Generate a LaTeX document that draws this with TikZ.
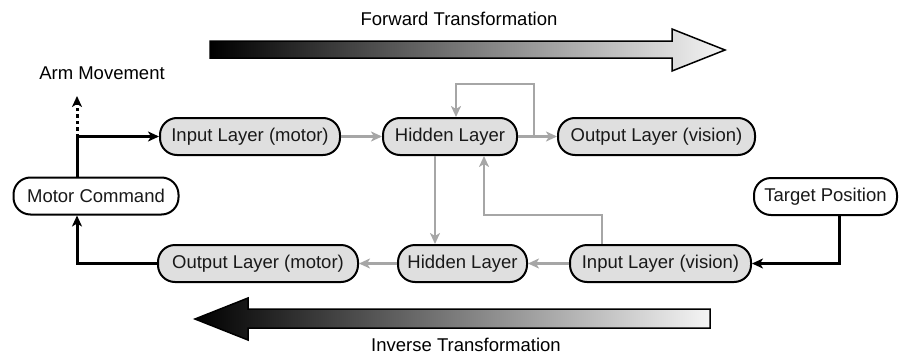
\documentclass[tikz,border=0pt]{standalone}
\usepackage{fontspec}
\setmainfont{Liberation Sans}
\usetikzlibrary{arrows.meta}
\begin{document}
\begin{tikzpicture}[x=1pt,y=-1pt,
  font=\fontsize{18.5}{20}\selectfont,
  layer/.style={draw=black, line width=2pt, fill=gray!25, rounded corners=17pt,
    minimum height=37pt, inner sep=0pt, text=black!90},
  ext/.style={layer, fill=white},
  gry/.style={draw=gray!70, line width=2.4pt, -{Stealth[length=11pt,width=10pt,inset=3pt]}},
  blk/.style={draw=black, line width=3pt, -{Stealth[length=11pt,width=10pt,inset=3pt]}},
  bigarrow/.style={draw=black, line width=1.5pt, line join=miter}
]
\useasboundingbox (0,0) rectangle (904,356);

% transformation arrows
\shadedraw[bigarrow, left color=black, right color=gray!8]
  (210,41) -- (672,41) -- (672,29) -- (725,50) -- (672,71) -- (672,58) -- (210,58) -- cycle;
\node (fwd) at (459,19) {Forward Transformation};

\shadedraw[bigarrow, left color=black, right color=gray!8]
  (710,309) -- (248,309) -- (248,298) -- (195,319) -- (248,340) -- (248,328) -- (710,328) -- cycle;
\node (inv) at (466,345) {Inverse Transformation};

% nodes
\node[layer, minimum width=180pt] (iml) at (250,136.5) {Input Layer (motor)};
\node[layer, minimum width=134pt] (hid1) at (450,136.5) {Hidden Layer};
\node[layer, minimum width=197pt] (ovl) at (656.5,136.5) {Output Layer (vision)};
\node[layer, minimum width=200pt] (oml) at (258,263.5) {Output Layer (motor)};
\node[layer, minimum width=129pt] (hid2) at (462.5,263.5) {Hidden Layer};
\node[layer, minimum width=181pt] (ivl) at (660.5,263.5) {Input Layer (vision)};
\node[ext, minimum width=165pt] (mc) at (96,196) {Motor Command};
\node[ext, minimum width=143pt] (tp) at (825.5,196.5) {Target Position};
\node (arm) at (102,73) {Arm Movement};

% helper coordinates
\coordinate (jn) at (77,137);
\coordinate (armtip) at (77,96);
\coordinate (lp) at (534,84);
\coordinate (lpl) at (456,84);
\coordinate (dn) at (435,0);
\coordinate (up1) at (602,215);
\coordinate (up2) at (484,215);
\coordinate (tpx) at (839,0);

% motor side (black)
\draw[blk] (mc.north -| jn) |- (iml.west);
\draw[blk, dash pattern=on 3.5pt off 3pt] (jn) -- (armtip);
\draw[blk] (oml.west) -| (mc.south -| jn);
\draw[blk] (tp.south -| tpx) |- (ivl.east);

% forward network (gray)
\draw[gry] (iml.east) -- (hid1.west);
\draw[gry] (hid1.east) -- (ovl.west);
\draw[gry] (hid1.east -| lp) -- (lp) -- (lpl) -- (lpl |- hid1.north);
\draw[gry] (hid1.south -| dn) -- (hid2.north -| dn);
\draw[gry] (ivl.north -| up1) -- (up1) -- (up2) -- (hid1.south -| up2);

% inverse network (gray)
\draw[gry] (ivl.west) -- (hid2.east);
\draw[gry] (hid2.west) -- (oml.east);
\end{tikzpicture}
\end{document}
